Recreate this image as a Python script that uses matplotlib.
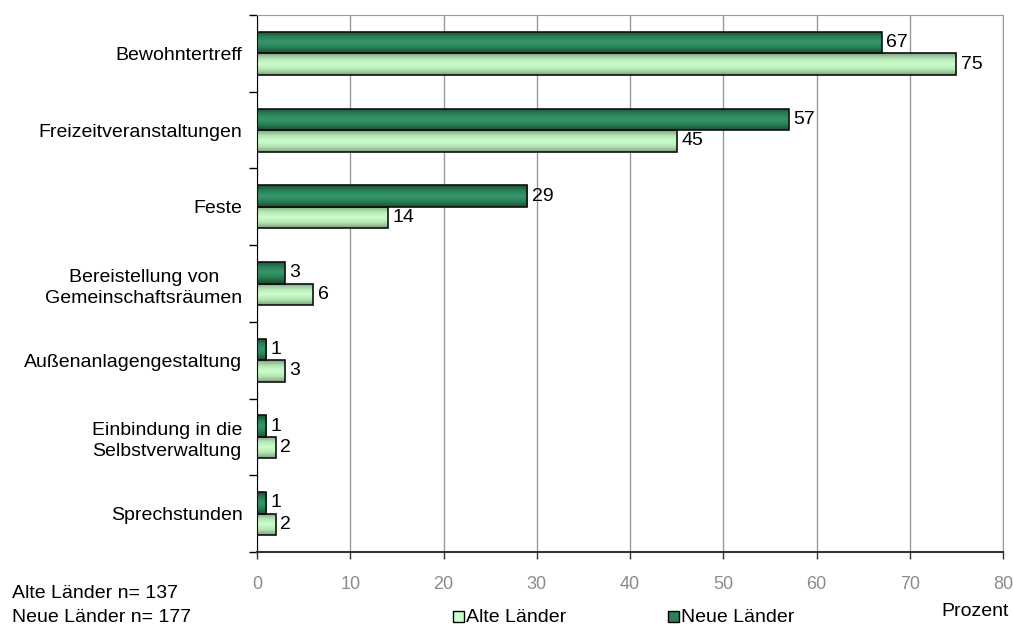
import matplotlib
matplotlib.use("Agg")
import matplotlib.pyplot as plt
import numpy as np
from matplotlib.colors import LinearSegmentedColormap
from matplotlib.patches import Rectangle

plt.rcParams['font.family'] = ['Liberation Sans', 'DejaVu Sans']

categories = ["Bewohntertreff", "Freizeitveranstaltungen", "Feste",
              "Bereistellung von\nGemeinschaftsräumen", "Außenanlagengestaltung",
              "Einbindung in die\nSelbstverwaltung", "Sprechstunden"]
alte = [75, 45, 14, 6, 3, 2, 2]
neue = [67, 57, 29, 3, 1, 1, 1]
xticks = [0, 10, 20, 30, 40, 50, 60, 70, 80]

fig = plt.figure(figsize=(10.13, 6.26), dpi=100)
ax = fig.add_axes([257/1013, 1-552/626, (1003-257)/1013, (552-15)/626])

n = len(categories)
y = np.arange(n)
h = 0.28

cm_dark = LinearSegmentedColormap.from_list("d", ["#1b4d33", "#2a8056", "#35996a", "#2a8056", "#1b4d33"])
cm_light = LinearSegmentedColormap.from_list("l", ["#7f9f80", "#b4e6b4", "#ccffcc", "#b4e6b4", "#7f9f80"])
grad = np.linspace(0, 1, 64).reshape(-1, 1)

def gbar(yc, val, cmap):
    y0 = yc - h/2
    y1 = yc + h/2
    im = ax.imshow(grad, extent=[0, val, y1, y0], aspect='auto', cmap=cmap,
                   zorder=2, interpolation='bicubic')
    r = Rectangle((0, y0), val, h, facecolor='none', edgecolor='none', zorder=2)
    ax.add_patch(r)
    im.set_clip_path(r)
    ax.add_patch(Rectangle((0, y0), val, h, facecolor='none', edgecolor='#111111',
                           linewidth=1.2, zorder=3))

for i in range(n):
    gbar(y[i] - h/2, neue[i], cm_dark)
    gbar(y[i] + h/2, alte[i], cm_light)
    ax.text(neue[i] + 0.5, y[i] - h/2, str(neue[i]), va='center', ha='left', fontsize=14, color='black')
    ax.text(alte[i] + 0.5, y[i] + h/2, str(alte[i]), va='center', ha='left', fontsize=14, color='black')

ax.set_xlim(0, 80)
ax.set_ylim(n - 0.5, -0.5)
ax.set_xticks(xticks)
ax.set_xticklabels([str(t) for t in xticks], color='#8c8c8c', fontsize=13)
ax.tick_params(axis='x', length=5, color='#333333', pad=12, width=1)
ax.set_yticks(np.arange(-0.5, n, 1.0))
ax.set_yticklabels([])
ax.tick_params(axis='y', length=6, color='black', width=1)
ax.set_yticks(y, minor=True)
ax.set_yticklabels(categories, minor=True, fontsize=14, ha='right', multialignment='center',
                   linespacing=1.35)
ax.tick_params(axis='y', which='minor', length=0, pad=10.5)

ax.grid(axis='x', color='#9a9a9a', linewidth=1, zorder=0)
ax.set_axisbelow(True)
ax.spines['left'].set_color('black')
ax.spines['bottom'].set_color('#333333')
ax.spines['bottom'].set_linewidth(1.5)
ax.spines['top'].set_color('#9a9a9a')
ax.spines['right'].set_color('#9a9a9a')

fig.text(12/1013, 1-593/626, "Alte Länder n= 137", fontsize=14, va='center', ha='left')
fig.text(12/1013, 1-617/626, "Neue Länder n= 177", fontsize=14, va='center', ha='left')
fig.text(1009/1013, 1-612/626, "Prozent", fontsize=14, va='center', ha='right')

# legend
for xm, label, c in [(453, "Alte Länder", "#ccffcc"), (668, "Neue Länder", "#2a8056")]:
    fig.patches.append(Rectangle((xm/1013, 1-622/626), 11/1013, 11/626, transform=fig.transFigure,
                                 facecolor=c, edgecolor='black', linewidth=1, figure=fig))
    fig.text((xm+13)/1013, 1-617/626, label, fontsize=14, va='center', ha='left')

fig.savefig("out.png", dpi=100)
